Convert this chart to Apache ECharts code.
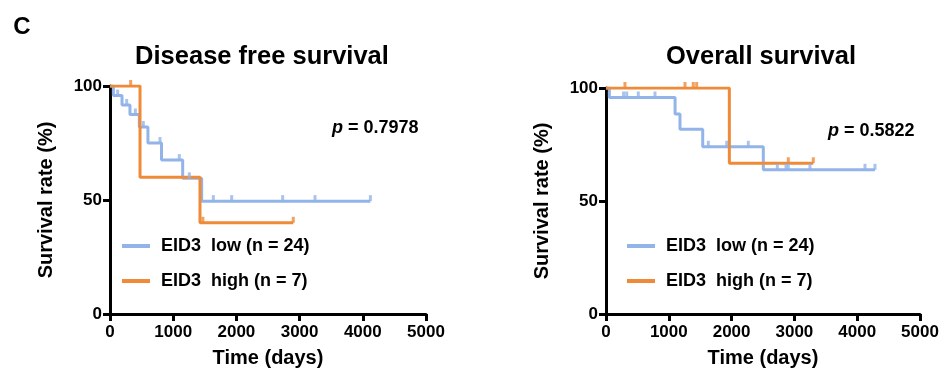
<!DOCTYPE html>
<html>
<head>
<meta charset="utf-8">
<script src="https://cdn.jsdelivr.net/npm/echarts@6/dist/echarts.min.js"></script>
<style>
  html, body { margin: 0; padding: 0; background: #fff; }
  #chart { width: 942px; height: 373px; }
</style>
</head>
<body>
<div id="chart"></div>
<script>
// Kaplan-Meier curves: [day, survival %]
const xTicks = [0, 1000, 2000, 3000, 4000, 5000]
const lowName = 'EID3  low (n = 24)'
const highName = 'EID3  high (n = 7)'

// disease free survival
const dfsLowSteps = [[0, 100], [53, 95.8], [190, 91.7], [316, 87.5], [464, 82], [600, 75], [815, 67.5], [1150, 59.5], [1450, 49.5], [4120, 49.5]]
const dfsLowCensor = [[121, 95.8], [264, 91.7], [401, 87.5], [527, 82], [791, 75], [1097, 67.5], [1255, 59.5], [1635, 49.5], [1925, 49.5], [2732, 49.5], [3244, 49.5], [4120, 49.5]]
const dfsHighSteps = [[0, 100], [475, 60], [1424, 40], [2900, 40]]
const dfsHighCensor = [[327, 100], [1470, 40], [2900, 40]]
const dfsP = '0.7978'

// overall survival
const osLowSteps = [[0, 100], [53, 95.8], [1100, 88.5], [1178, 81.7], [1540, 74], [2505, 63.8], [4283, 63.8]]
const osLowCensor = [[280, 95.8], [330, 95.8], [514, 95.8], [780, 95.8], [1629, 74], [1922, 74], [2266, 74], [2728, 63.8], [2866, 63.8], [2903, 63.8], [3248, 63.8], [4124, 63.8], [4283, 63.8]]
const osHighSteps = [[0, 100], [1964, 66.7], [3301, 66.7]]
const osHighCensor = [[302, 100], [1258, 100], [1390, 100], [1444, 100], [2903, 66.7], [3301, 66.7]]
const osP = '0.5822'

const blue = '#92b4e8'
const orange = '#ee8a38'
const font = 'Liberation Sans, Arial, sans-serif'

const chart = echarts.init(document.getElementById('chart'))

const makeX = (i) => ({
    gridIndex: i,
    type: 'value',
    min: 0,
    max: 5000,
    interval: 1000,
    name: 'Time (days)',
    nameLocation: 'middle',
    nameGap: 34,
    nameTextStyle: {color: '#000', fontSize: 20, fontWeight: 'bold', fontFamily: font},
    axisLine: {lineStyle: {color: '#000', width: 3}},
    axisTick: {length: 7, lineStyle: {color: '#000', width: 3}},
    axisLabel: {color: '#000', fontSize: 17, fontWeight: 'bold', fontFamily: font, margin: 10,
        formatter: (v) => xTicks.includes(v) ? String(v) : ''},
    splitLine: {show: false}
})

const makeY = (i) => ({
    gridIndex: i,
    type: 'value',
    min: 0,
    max: 100,
    interval: 50,
    name: 'Survival rate (%)',
    nameLocation: 'middle',
    nameRotate: 90,
    nameGap: 54,
    nameTextStyle: {color: '#000', fontSize: 20, fontWeight: 'bold', fontFamily: font},
    axisLine: {show: true, lineStyle: {color: '#000', width: 3}},
    axisTick: {show: true, length: 7, lineStyle: {color: '#000', width: 3}},
    axisLabel: {color: '#000', fontSize: 17, fontWeight: 'bold', fontFamily: font, margin: 8},
    splitLine: {show: false}
})

const stepLine = (name, data, color, i) => ({
    name: name,
    type: 'line',
    step: 'end',
    xAxisIndex: i,
    yAxisIndex: i,
    data: data,
    symbol: 'none',
    color: color,
    lineStyle: {color: color, width: 3},
    itemStyle: {color: color},
    z: 3
})

const censor = (data, color, i) => ({
    name: 'censor',
    type: 'scatter',
    xAxisIndex: i,
    yAxisIndex: i,
    data: data,
    symbol: 'rect',
    symbolSize: [3, 6],
    symbolOffset: [0, -3],
    itemStyle: {color: color},
    silent: true,
    z: 4
})

const makeLegend = (left) => ({
    left: left,
    top: 237,
    orient: 'vertical',
    icon: 'rect',
    itemWidth: 28,
    itemHeight: 4,
    itemGap: 17,
    padding: 0,
    selectedMode: false,
    data: [lowName, highName],
    textStyle: {color: '#000', fontSize: 18, fontWeight: 'bold', fontFamily: font, padding: [0, 0, 0, 6]}
})

const textEl = (text, x, y, size) => ({
    type: 'text',
    x: x,
    y: y,
    style: {text: text, fill: '#000', font: 'bold ' + size + 'px ' + font, textAlign: 'center', textVerticalAlign: 'middle'}
})

const pEl = (value, x, y) => ({
    type: 'text',
    x: x,
    y: y,
    style: {
        text: '{i|p} = ' + value,
        fill: '#000',
        font: 'bold 18px ' + font,
        textAlign: 'left',
        textVerticalAlign: 'middle',
        rich: {i: {fontStyle: 'italic', fontWeight: 'bold', fontSize: 18, fontFamily: font, fill: '#000'}}
    }
})

const option = {
    animation: false,
    backgroundColor: '#fff',
    grid: [
        {left: 110, right: 516, top: 86, bottom: 57},
        {left: 606, right: 22, top: 88, bottom: 56}
    ],
    xAxis: [makeX(0), makeX(1)],
    yAxis: [makeY(0), makeY(1)],
    legend: [makeLegend(122), makeLegend(627)],
    series: [
        stepLine(lowName, dfsLowSteps, blue, 0),
        stepLine(highName, dfsHighSteps, orange, 0),
        censor(dfsLowCensor, blue, 0),
        censor(dfsHighCensor, orange, 0),
        stepLine(lowName, osLowSteps, blue, 1),
        stepLine(highName, osHighSteps, orange, 1),
        censor(osLowCensor, blue, 1),
        censor(osHighCensor, orange, 1)
    ],
    graphic: [
        textEl('C', 22, 27, 24),
        textEl('Disease free survival', 262, 57, 25.5),
        textEl('Overall survival', 761, 57, 25.5),
        pEl(dfsP, 332, 128),
        pEl(osP, 828, 131)
    ]
}

chart.setOption(option)
</script>
</body>
</html>
